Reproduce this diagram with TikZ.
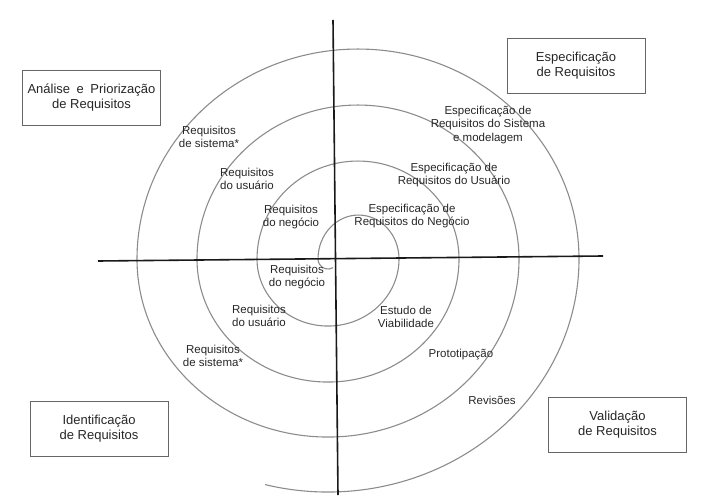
\documentclass[tikz,border=0pt]{standalone}
\usepackage{fontspec}
\setmainfont{Liberation Sans}
\usepackage{tikz}

\tikzset{
  fase/.style={draw=black!60, line width=0.7pt, minimum width=138pt, minimum height=55pt,
    align=center, font=\fontsize{13}{15}\selectfont, text=black!85},
  rotulo/.style={align=center, font=\fontsize{11.5}{13.5}\selectfont, text=black!85, inner sep=0pt},
  eixo/.style={line width=1.6pt, black!90},
  espiral/.style={line width=1.1pt, black!45}
}

\begin{document}
\begin{tikzpicture}[x=1pt,y=-1pt]
\useasboundingbox (0,0) rectangle (701,497);
% spiral
\draw[espiral] (333,267.7) arc[start angle=60,end angle=180,radius=10]
  arc[start angle=180,end angle=360,x radius=40.5,y radius=44]
  arc[start angle=0,end angle=180,x radius=71,y radius=67]
  arc[start angle=180,end angle=360,x radius=101,y radius=98]
  arc[start angle=0,end angle=180,x radius=131,y radius=123]
  arc[start angle=180,end angle=360,x radius=161,y radius=154]
  arc[start angle=0,end angle=180,x radius=191,y radius=178]
  arc[start angle=180,end angle=360,x radius=221,y radius=210]
  arc[start angle=0,end angle=104.5,x radius=251,y radius=233];
% axes
\coordinate (topo) at (333,20);
\coordinate (base) at (338,495);
\coordinate (esq) at (98,261);
\coordinate (dir) at (603,256);
\draw[eixo] (topo) -- (base);
\draw[eixo] (esq) -- (dir);
% phases
\node[fase] (analise) at (91.5,97.5) {An\'alise\hspace{0.5em}e\hspace{0.5em}Prioriza\c{c}\~ao\\de Requisitos};
\node[fase] (especif) at (576,65.5) {Especifica\c{c}\~ao\\de Requisitos};
\node[fase] (ident) at (99,428.5) {Identifica\c{c}\~ao\\de Requisitos};
\node[fase] (valid) at (617.5,424.5) {Valida\c{c}\~ao\\de Requisitos};
% labels
\node[rotulo] (sis1) at (209,137) {Requisitos\\de sistema*};
\node[rotulo] (usu1) at (247,179) {Requisitos\\do usu\'ario};
\node[rotulo] (neg1) at (291,217) {Requisitos\\do neg\'ocio};
\node[rotulo] (esis) at (488,125) {Especifica\c{c}\~ao de\\Requisitos do Sistema\\e modelagem};
\node[rotulo] (eusu) at (454,175) {Especifica\c{c}\~ao de\\Requisitos do Usu\'ario};
\node[rotulo] (eneg) at (412,216) {Especifica\c{c}\~ao de\\Requisitos do Neg\'ocio};
\node[rotulo] (neg2) at (297,277) {Requisitos\\do neg\'ocio};
\node[rotulo] (usu2) at (259,316) {Requisitos\\do usu\'ario};
\node[rotulo] (sis2) at (213,356) {Requisitos\\de sistema*};
\node[rotulo] (estudo) at (406,317) {Estudo de\\Viabilidade};
\node[rotulo] (proto) at (461,355) {Prototipa\c{c}\~ao};
\node[rotulo] (rev) at (492,400) {Revis\~oes};
\end{tikzpicture}
\end{document}
